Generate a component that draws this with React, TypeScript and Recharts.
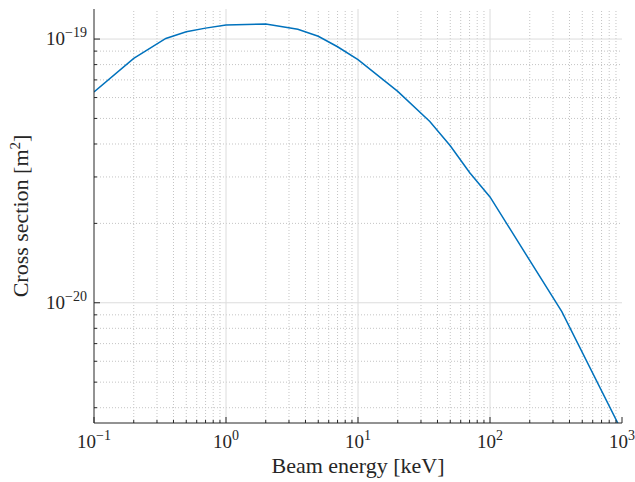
import React from "react";
import { Line, LineChart, ReferenceLine, XAxis, YAxis } from "recharts";

// beam energy [keV] and cross section [m^2]
const energy = [0.1, 0.2, 0.35, 0.5, 0.7, 1, 2, 3.5, 5, 7, 10, 20, 35, 50, 70, 100, 350, 1000];
const sigma = [
  6.3e-20, 8.45e-20, 1.005e-19, 1.065e-19, 1.1e-19, 1.13e-19, 1.14e-19, 1.09e-19, 1.025e-19,
  9.35e-20, 8.35e-20, 6.33e-20, 4.87e-20, 3.94e-20, 3.12e-20, 2.52e-20, 9.25e-21, 3.25e-21,
];

const xMajor = [0.1, 1, 10, 100, 1000];
const xMinor = [
  0.2, 0.3, 0.4, 0.5, 0.6, 0.7, 0.8, 0.9, 2, 3, 4, 5, 6, 7, 8, 9, 20, 30, 40, 50, 60, 70, 80, 90,
  200, 300, 400, 500, 600, 700, 800, 900,
];
const yMajor = [1e-20, 1e-19];
const yMinor = [4e-21, 5e-21, 6e-21, 7e-21, 8e-21, 9e-21, 2e-20, 3e-20, 4e-20, 5e-20, 6e-20, 7e-20, 8e-20, 9e-20];
const xDomain = [0.1, 1000];
const yDomain = [3.5e-21, 1.3e-19];

const data = energy.map((e, i) => ({ energy: e, sigma: sigma[i] }));
const xTicks = [...xMajor, ...xMinor].sort((a, b) => a - b);
const yTicks = [...yMajor, ...yMinor].sort((a, b) => a - b);

const AXIS = "#262626";
const FONT = "'Liberation Serif', 'Times New Roman', serif";
const isMajor = (v: number, list: number[]) => list.some((m) => Math.abs(m - v) / m < 1e-6);
const expOf = (v: number) => {
  const e = Math.round(Math.log10(v));
  return e < 0 ? "\u2212" + Math.abs(e) : String(e);
};

function Pow10({ x, y, v, anchor }: { x: number; y: number; v: number; anchor: "middle" | "end" }) {
  return (
    <text x={x} y={y} textAnchor={anchor} fill={AXIS} fontFamily={FONT} fontSize={19}>
      10
      <tspan dy={-8} fontSize={14}>
        {expOf(v)}
      </tspan>
    </text>
  );
}

function BottomTick(props: any) {
  const { x, y, payload } = props;
  const major = isMajor(payload.value, xMajor);
  return (
    <g>
      <line x1={x} y1={y} x2={x} y2={y - (major ? 6 : 3)} stroke={AXIS} />
      {major && <Pow10 x={x} y={y + 25} v={payload.value} anchor="middle" />}
    </g>
  );
}

function TopTick(props: any) {
  const { x, y, payload } = props;
  const major = isMajor(payload.value, xMajor);
  return <line x1={x} y1={y} x2={x} y2={y + (major ? 6 : 3)} stroke={AXIS} />;
}

function LeftTick(props: any) {
  const { x, y, payload } = props;
  const major = isMajor(payload.value, yMajor);
  return (
    <g>
      <line x1={x} y1={y} x2={x + (major ? 6 : 3)} y2={y} stroke={AXIS} />
      {major && <Pow10 x={x - 7} y={y + 6} v={payload.value} anchor="end" />}
    </g>
  );
}

function RightTick(props: any) {
  const { x, y, payload } = props;
  const major = isMajor(payload.value, yMajor);
  return <line x1={x} y1={y} x2={x - (major ? 6 : 3)} y2={y} stroke={AXIS} />;
}

function XTitle(props: any) {
  const { x, y, width } = props.viewBox;
  return (
    <text x={x + width / 2} y={y + 50} textAnchor="middle" fill={AXIS} fontFamily={FONT} fontSize={22}>
      Beam energy [keV]
    </text>
  );
}

function YTitle(props: any) {
  const { x, y, height } = props.viewBox;
  const cx = x + 28;
  const cy = y + height / 2;
  return (
    <text
      x={cx}
      y={cy}
      transform={`rotate(-90 ${cx} ${cy})`}
      textAnchor="middle"
      fill={AXIS}
      fontFamily={FONT}
      fontSize={22}
    >
      Cross section [m
      <tspan dy={-8} fontSize={15}>
        2
      </tspan>
      <tspan dy={8}>]</tspan>
    </text>
  );
}

export default function App() {
  return (
    <div style={{ position: "absolute", left: 0, top: 0, background: "#fff" }}>
      <LineChart width={635} height={482} data={data} margin={{ top: 9, right: 13, left: 0, bottom: 0 }}>
        <XAxis
          dataKey="energy"
          type="number"
          scale="log"
          domain={xDomain}
          ticks={xTicks}
          interval={0}
          allowDataOverflow
          height={59}
          tickSize={0}
          tickMargin={0}
          tickLine={false}
          axisLine={{ stroke: AXIS }}
          tick={<BottomTick />}
          label={<XTitle />}
        />
        <XAxis
          xAxisId="top"
          dataKey="energy"
          type="number"
          scale="log"
          orientation="top"
          domain={xDomain}
          ticks={xTicks}
          interval={0}
          allowDataOverflow
          height={0}
          tickSize={0}
          tickMargin={0}
          tickLine={false}
          axisLine={{ stroke: AXIS }}
          tick={<TopTick />}
        />
        <YAxis
          type="number"
          scale="log"
          domain={yDomain}
          ticks={yTicks}
          interval={0}
          allowDataOverflow
          width={94}
          tickSize={0}
          tickMargin={0}
          tickLine={false}
          axisLine={{ stroke: AXIS }}
          tick={<LeftTick />}
          label={<YTitle />}
        />
        <YAxis
          yAxisId="right"
          type="number"
          scale="log"
          orientation="right"
          domain={yDomain}
          ticks={yTicks}
          interval={0}
          allowDataOverflow
          width={0}
          tickSize={0}
          tickMargin={0}
          tickLine={false}
          axisLine={{ stroke: AXIS }}
          tick={<RightTick />}
        />
        {xMinor.map((v) => (
          <ReferenceLine key={"xm" + v} x={v} stroke="#c4c4c4" strokeDasharray="1 2" />
        ))}
        {yMinor.map((v) => (
          <ReferenceLine key={"ym" + v} y={v} stroke="#c4c4c4" strokeDasharray="1 2" />
        ))}
        {xMajor.slice(1, -1).map((v) => (
          <ReferenceLine key={"xM" + v} x={v} stroke="#dcdcdc" />
        ))}
        {yMajor.map((v) => (
          <ReferenceLine key={"yM" + v} y={v} stroke="#dcdcdc" />
        ))}
        <Line
          dataKey="sigma"
          type="linear"
          stroke="#0072BD"
          strokeWidth={1.5}
          dot={false}
          isAnimationActive={false}
        />
      </LineChart>
    </div>
  );
}
